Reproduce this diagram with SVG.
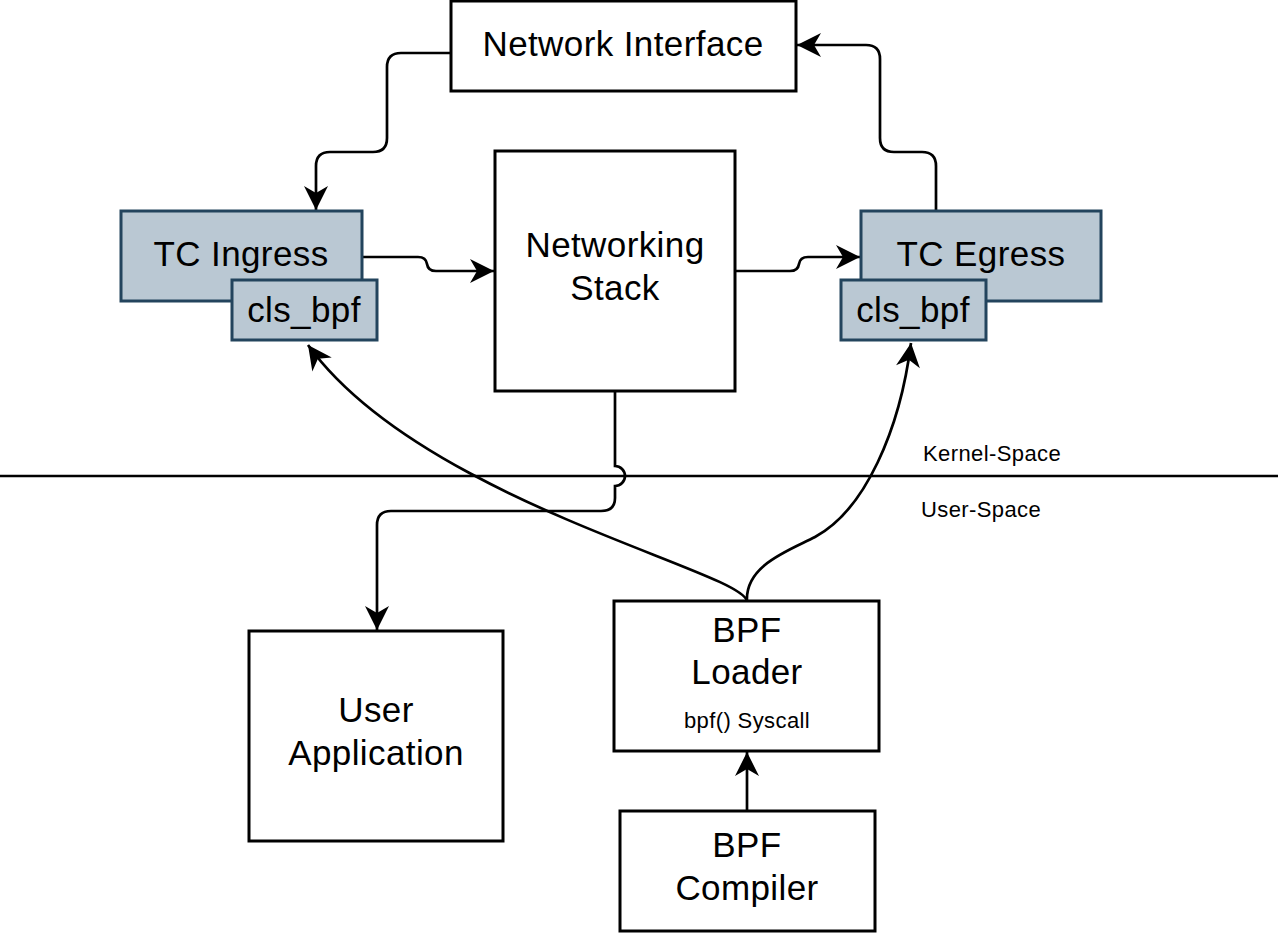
<svg xmlns="http://www.w3.org/2000/svg" width="1278" height="933" viewBox="0 0 1278 933">
<defs>
<style>
.box{fill:#ffffff;stroke:#000000;stroke-width:3}
.tc{fill:#bac8d3;stroke:#23445d;stroke-width:3}
.lbl{font-family:"Liberation Sans",Arial,sans-serif;font-size:35px;letter-spacing:0.4px;fill:#000000;text-anchor:middle}
.sm{font-family:"Liberation Sans",Arial,sans-serif;font-size:22px;letter-spacing:0.4px;fill:#000000}
.edge{fill:none;stroke:#000000;stroke-width:2.7}
</style>
<marker id="arr" markerUnits="userSpaceOnUse" viewBox="-26 -13 28 26" markerWidth="28" markerHeight="26" refX="0" refY="0" orient="auto">
<path d="M0,0 L-24,-12 L-17,0 L-24,12 Z" fill="#000000"/>
</marker>
</defs>
<rect width="1278" height="933" fill="#ffffff"/>

<g id="separator">
<line x1="0" y1="476" x2="1278" y2="476" stroke="#000000" stroke-width="2.5"/>
<text class="sm" x="923" y="461">Kernel-Space</text>
<text class="sm" x="921" y="517">User-Space</text>
</g>

<g id="connectors">
<path class="edge" d="M451,53 L401,53 Q387,53 387,67 L387,138 Q387,152 373,152 L330,152 Q316,152 316,166 L316,210" marker-end="url(#arr)"/>
<path class="edge" d="M936,211 L936,166 Q936,152 922,152 L894,152 Q880,152 880,138 L880,59 Q880,45 866,45 L797,45" marker-end="url(#arr)"/>
<path class="edge" d="M362,257 L418,257 Q426,257 427,264 Q428,271 436,271 L494,271" marker-end="url(#arr)"/>
<path class="edge" d="M735,271 L790,271 Q798,271 799,264 Q800,257 808,257 L860,257" marker-end="url(#arr)"/>
<path class="edge" d="M615,391 L615,466 A10,10 0 0 1 615,486 L615,498 Q615,511 601,511 L391,511 Q377,511 377,525 L377,630" marker-end="url(#arr)"/>
<path class="edge" d="M747,601 C740,570 420,500 308,345" marker-end="url(#arr)"/>
<path class="edge" d="M747,601 C745,565 790,550 815,537 C865,510 900,430 911,343" marker-end="url(#arr)"/>
<path class="edge" d="M747,811 L747,752" marker-end="url(#arr)"/>
</g>

<g id="network-interface">
<rect class="box" x="451" y="1" width="345" height="90"/>
<text class="lbl" x="623" y="56">Network Interface</text>
</g>

<g id="networking-stack">
<rect class="box" x="495" y="151" width="240" height="240"/>
<text class="lbl" x="615" y="257">Networking</text>
<text class="lbl" x="615" y="300">Stack</text>
</g>

<g id="tc-ingress">
<rect class="tc" x="121" y="211" width="241" height="90"/>
<text class="lbl" x="241" y="266">TC Ingress</text>
</g>
<g id="cls-bpf-ingress">
<rect class="tc" x="232" y="280" width="145" height="60"/>
<text class="lbl" x="304" y="322">cls_bpf</text>
</g>

<g id="tc-egress">
<rect class="tc" x="861" y="211" width="240" height="90"/>
<text class="lbl" x="981" y="266">TC Egress</text>
</g>
<g id="cls-bpf-egress">
<rect class="tc" x="841" y="280" width="145" height="60"/>
<text class="lbl" x="913" y="322">cls_bpf</text>
</g>

<g id="user-application">
<rect class="box" x="249" y="631" width="254" height="210"/>
<text class="lbl" x="376" y="722">User</text>
<text class="lbl" x="376" y="765">Application</text>
</g>

<g id="bpf-loader">
<rect class="box" x="614" y="601" width="265" height="150"/>
<text class="lbl" x="747" y="642">BPF</text>
<text class="lbl" x="747" y="684">Loader</text>
<text class="sm" x="747" y="728" text-anchor="middle">bpf() Syscall</text>
</g>

<g id="bpf-compiler">
<rect class="box" x="620" y="811" width="255" height="120"/>
<text class="lbl" x="747" y="857">BPF</text>
<text class="lbl" x="747" y="900">Compiler</text>
</g>
</svg>
